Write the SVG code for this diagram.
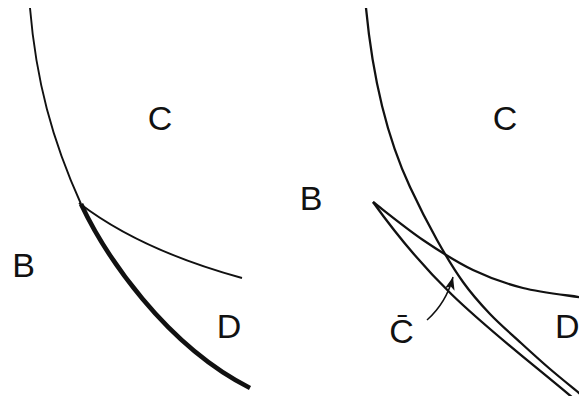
<svg xmlns="http://www.w3.org/2000/svg" width="579" height="396" viewBox="0 0 579 396">
  <defs>
    <style>
      .ln { fill: none; stroke: #111; stroke-width: 1.9; }
      .rl { fill: none; stroke: #111; stroke-width: 2.3; }
      .thick { fill: none; stroke: #111; stroke-width: 4.6; }
      .lbl { font-family: "Liberation Sans", Arial, Helvetica, sans-serif; font-size: 34px; fill: #111; }
      .arr { fill: none; stroke: #111; stroke-width: 1.5; }
    </style>
    <marker id="ah" markerUnits="userSpaceOnUse" markerWidth="14" markerHeight="12" refX="13" refY="5" orient="auto" viewBox="0 0 14 10">
      <path d="M0,0 L13,5 L0,10 L3.5,5 Z" fill="#111"/>
    </marker>
  </defs>
  <rect width="579" height="396" fill="#fff"/>

  <g id="left-panel">
    <g id="left-curves">
      <path class="ln" d="M30,8 C36,80 52,140 81,204"/>
      <path class="thick" d="M81,204 C105,255 165,345 250,388"/>
      <path class="ln" d="M79,203 Q140,250 242,278"/>
    </g>
    <g id="left-C"><text class="lbl" x="160" y="129.5" text-anchor="middle">C</text></g>
    <g id="left-B"><text class="lbl" x="23.5" y="277" text-anchor="middle">B</text></g>
    <g id="left-D"><text class="lbl" x="229" y="338" text-anchor="middle">D</text></g>
  </g>

  <g id="right-panel">
    <g id="right-curves">
      <path class="rl" d="M366,8 C371.7,67.7 385,133.6 410,187 C417.8,203.7 428.2,224.2 437,240 C445.8,255.8 454.2,269.7 463,282 C471.8,294.3 480.3,303.8 490,314 C499.7,324.2 511,333.8 521,343 C531,352.2 540.3,360.7 550,369 C559.7,377.3 574.2,389 579,393 L586,399"/>
      <path class="rl" d="M373,202 C381.3,208.3 406.3,228.7 423,240 C439.7,251.3 456.3,262 473,270 C489.7,278 505.3,283.5 523,288 C540.7,292.5 569.7,295.5 582,297.5"/>
      <path class="rl" d="M373,202 C439.7,295.2 490.9,329.1 579,403"/>
    </g>
    <g id="connectors">
      <path class="arr" d="M427,320 C436,312 447,300 453,277" marker-end="url(#ah)"/>
    </g>
    <g id="right-C"><text class="lbl" x="505" y="130" text-anchor="middle">C</text></g>
    <g id="right-B"><text class="lbl" x="311" y="210" text-anchor="middle">B</text></g>
    <g id="right-D"><text class="lbl" x="555" y="338">D</text></g>
    <g id="right-Cbar"><text class="lbl" x="401.5" y="342.5" text-anchor="middle">C̄</text></g>
  </g>
</svg>
